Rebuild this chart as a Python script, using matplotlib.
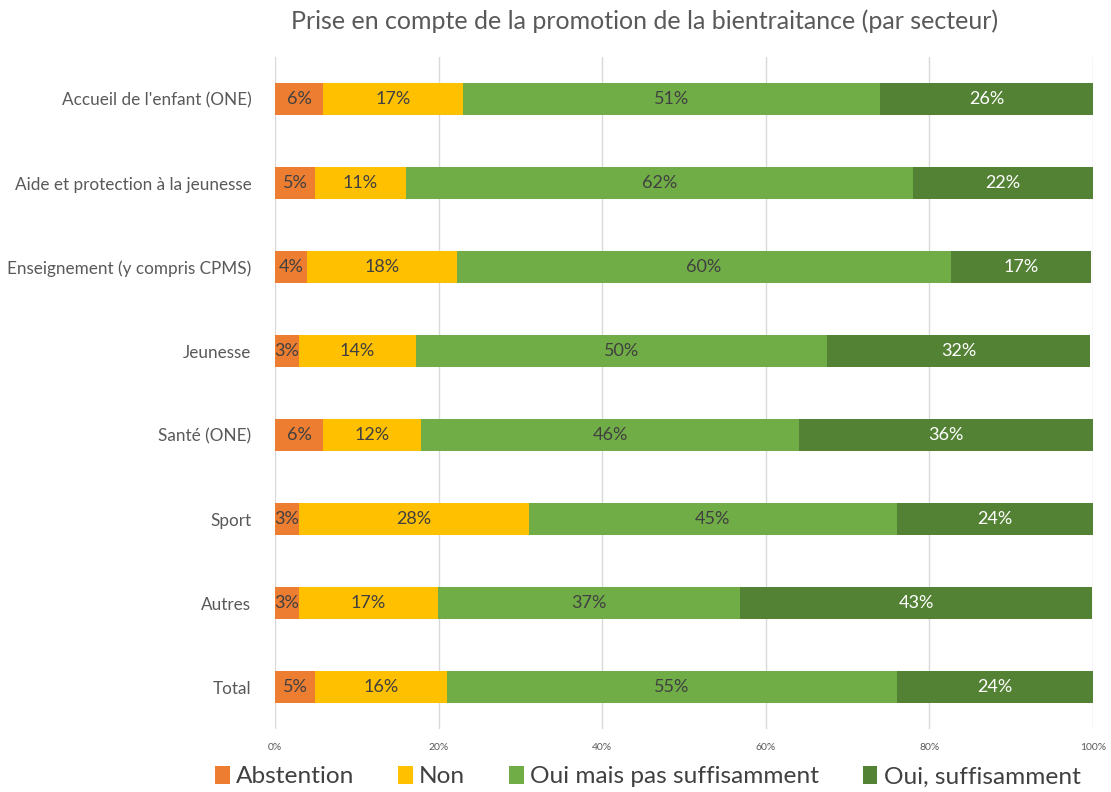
import numpy as np
import matplotlib.pyplot as plt
from matplotlib.ticker import FuncFormatter

plt.rcParams['font.family'] = ['Lato', 'DejaVu Sans']

categories = ["Accueil de l'enfant (ONE)", "Aide et protection à la jeunesse",
              "Enseignement (y compris CPMS)", "Jeunesse", "Santé (ONE)",
              "Sport", "Autres", "Total"]
series_names = ["Abstention", "Non", "Oui mais pas suffisamment", "Oui, suffisamment"]
abstention = [5.9, 4.9, 3.9, 2.9, 5.9, 2.9, 2.9, 4.9]
non = [17.1, 11.1, 18.3, 14.4, 12.0, 28.1, 17.0, 16.1]
oui_mais = [51.0, 62.0, 60.5, 50.2, 46.2, 45.0, 37.0, 55.0]
oui_suff = [26.0, 22.0, 17.1, 32.1, 35.9, 24.0, 43.0, 24.0]
colors = ["#ED7D31", "#FFC000", "#70AD47", "#548235"]
text_colors = ["#404040", "#404040", "#404040", "white"]

fig = plt.figure(figsize=(11.11, 7.92), dpi=100)
ax = fig.add_axes([0.2475, 0.0795, 0.7363, 0.8485])

y = np.arange(len(categories))
left = np.zeros(len(categories))
for name, vals, c, tc in zip(series_names, [abstention, non, oui_mais, oui_suff], colors, text_colors):
    vals = np.array(vals)
    bars = ax.barh(y, vals, left=left, height=0.39, color=c, label=name, zorder=3)
    ax.bar_label(bars, labels=[f"{v:.0f}%" for v in vals], label_type='center',
                 color=tc, fontsize=13)
    left += vals

ax.set_xlim(0, 100)
ax.set_ylim(len(categories) - 0.5, -0.5)
ax.set_yticks(y)
ax.set_yticklabels(categories, fontsize=12.3, color="#595959")
ax.set_xticks(np.arange(0, 101, 20))
ax.xaxis.set_major_formatter(FuncFormatter(lambda v, p: f"{v:.0f}%"))
ax.tick_params(axis='x', labelsize=7.5, colors="#595959", length=0, pad=10)
ax.tick_params(axis='y', length=0, pad=17)
ax.grid(axis='x', color="#D9D9D9", linewidth=1, zorder=0)
for s in ax.spines.values():
    s.set_visible(False)

fig.suptitle("Prise en compte de la promotion de la bientraitance (par secteur)",
             fontsize=18, color="#595959", x=0.58, y=0.988)
fig.legend(loc='lower center', bbox_to_anchor=(0.583, -0.022), ncol=4, frameon=False,
           fontsize=17.6, labelcolor="#404040", handlelength=0.6, handleheight=0.75,
           handletextpad=0.25, columnspacing=1.8)

fig.savefig("out.png", dpi=100)
